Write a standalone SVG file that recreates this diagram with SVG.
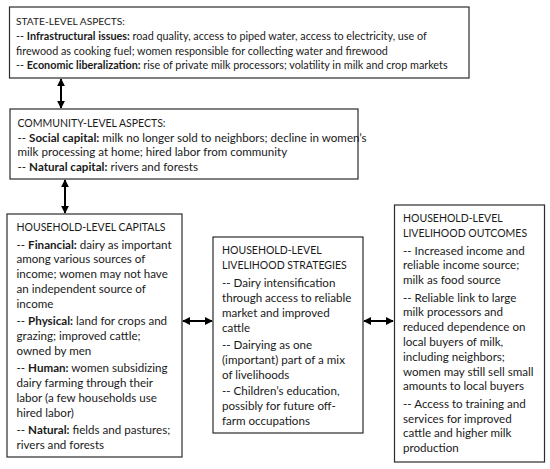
<svg xmlns="http://www.w3.org/2000/svg" width="550" height="469" viewBox="0 0 550 469">
<style>
.box{fill:#fff;stroke:#2b2b2b;stroke-width:1.2}
.t{font-family:Lato,"Liberation Sans",sans-serif;font-size:11.6px;fill:#1a1a1a}
.s{font-size:10.8px}
.h{font-size:10.5px}
.h1{font-size:10.2px}
.b{font-weight:bold}
.con{stroke:#000;stroke-width:2;fill:none;marker-start:url(#ah);marker-end:url(#ah)}
</style>
<defs>
<marker id="ah" viewBox="0 0 10 10" refX="9" refY="5" markerWidth="4.2" markerHeight="4" orient="auto-start-reverse" markerUnits="strokeWidth">
<path d="M0,0 L10,5 L0,10 z" fill="#000"/>
</marker>
</defs>
<rect width="550" height="469" fill="#fff"/>
<g id="connectors">
<line class="con" x1="61" y1="79" x2="61" y2="108"/>
<line class="con" x1="65" y1="180" x2="65" y2="213"/>
<line class="con" x1="183" y1="321" x2="212" y2="321"/>
<line class="con" x1="364" y1="321" x2="393" y2="321"/>
</g>
<g id="state">
<rect class="box" x="9.5" y="7" width="459.5" height="71"/>
<text class="t h1" x="16" y="25">STATE-LEVEL ASPECTS:</text>
<text class="t s" x="16" y="40">-- <tspan class="b">Infrastructural issues:</tspan> road quality, access to piped water, access to electricity, use of</text>
<text class="t s" x="16" y="55">firewood as cooking fuel; women responsible for collecting water and firewood</text>
<text class="t s" x="16" y="69">-- <tspan class="b">Economic liberalization:</tspan> rise of private milk processors; volatility in milk and crop markets</text>
</g>
<g id="community">
<rect class="box" x="10" y="109" width="348" height="70"/>
<text class="t h" x="17.5" y="127">COMMUNITY-LEVEL ASPECTS:</text>
<text class="t" x="17.5" y="141.5">-- <tspan class="b">Social capital:</tspan> milk no longer sold to neighbors; decline in women’s</text>
<text class="t" x="17.5" y="156">milk processing at home; hired labor from community</text>
<text class="t" x="17.5" y="171">-- <tspan class="b">Natural capital:</tspan> rivers and forests</text>
</g>
<g id="capitals">
<rect class="box" x="7" y="214" width="175" height="243"/>
<text class="t h" x="16.5" y="231">HOUSEHOLD-LEVEL CAPITALS</text>
<text class="t" x="16.5" y="248.5">-- <tspan class="b">Financial:</tspan> dairy as important</text>
<text class="t" x="16.5" y="263.3">among various sources of</text>
<text class="t" x="16.5" y="278.1">income; women may not have</text>
<text class="t" x="16.5" y="292.9">an independent source of</text>
<text class="t" x="16.5" y="307.7">income</text>
<text class="t" x="16.5" y="325.2">-- <tspan class="b">Physical:</tspan> land for crops and</text>
<text class="t" x="16.5" y="340">grazing; improved cattle;</text>
<text class="t" x="16.5" y="354.8">owned by men</text>
<text class="t" x="16.5" y="372.3">-- <tspan class="b">Human:</tspan> women subsidizing</text>
<text class="t" x="16.5" y="387.1">dairy farming through their</text>
<text class="t" x="16.5" y="401.9">labor (a few households use</text>
<text class="t" x="16.5" y="416.7">hired labor)</text>
<text class="t" x="16.5" y="434.2">-- <tspan class="b">Natural:</tspan> fields and pastures;</text>
<text class="t" x="16.5" y="449">rivers and forests</text>
</g>
<g id="strategies">
<rect class="box" x="213" y="237" width="150" height="196"/>
<text class="t h" x="222" y="254">HOUSEHOLD-LEVEL</text>
<text class="t h" x="222" y="269">LIVELIHOOD STRATEGIES</text>
<text class="t" x="222" y="287">-- Dairy intensification</text>
<text class="t" x="222" y="302">through access to reliable</text>
<text class="t" x="222" y="317">market and improved</text>
<text class="t" x="222" y="332">cattle</text>
<text class="t" x="222" y="348.5">-- Dairying as one</text>
<text class="t" x="222" y="363.5">(important) part of a mix</text>
<text class="t" x="222" y="378.5">of livelihoods</text>
<text class="t" x="222" y="395">-- Children’s education,</text>
<text class="t" x="222" y="410">possibly for future off-</text>
<text class="t" x="222" y="425">farm occupations</text>
</g>
<g id="outcomes">
<rect class="box" x="394.5" y="205" width="150" height="257"/>
<text class="t h" x="403" y="222">HOUSEHOLD-LEVEL</text>
<text class="t h" x="403" y="237">LIVELIHOOD OUTCOMES</text>
<text class="t" x="403" y="254.5">-- Increased income and</text>
<text class="t" x="403" y="269.3">reliable income source;</text>
<text class="t" x="403" y="284">milk as food source</text>
<text class="t" x="403" y="301.5">-- Reliable link to large</text>
<text class="t" x="403" y="316.3">milk processors and</text>
<text class="t" x="403" y="331">reduced dependence on</text>
<text class="t" x="403" y="346">local buyers of milk,</text>
<text class="t" x="403" y="360.7">including neighbors;</text>
<text class="t" x="403" y="375.5">women may still sell small</text>
<text class="t" x="403" y="390.3">amounts to local buyers</text>
<text class="t" x="403" y="407.8">-- Access to training and</text>
<text class="t" x="403" y="422.6">services for improved</text>
<text class="t" x="403" y="437.4">cattle and higher milk</text>
<text class="t" x="403" y="452.2">production</text>
</g>
</svg>
